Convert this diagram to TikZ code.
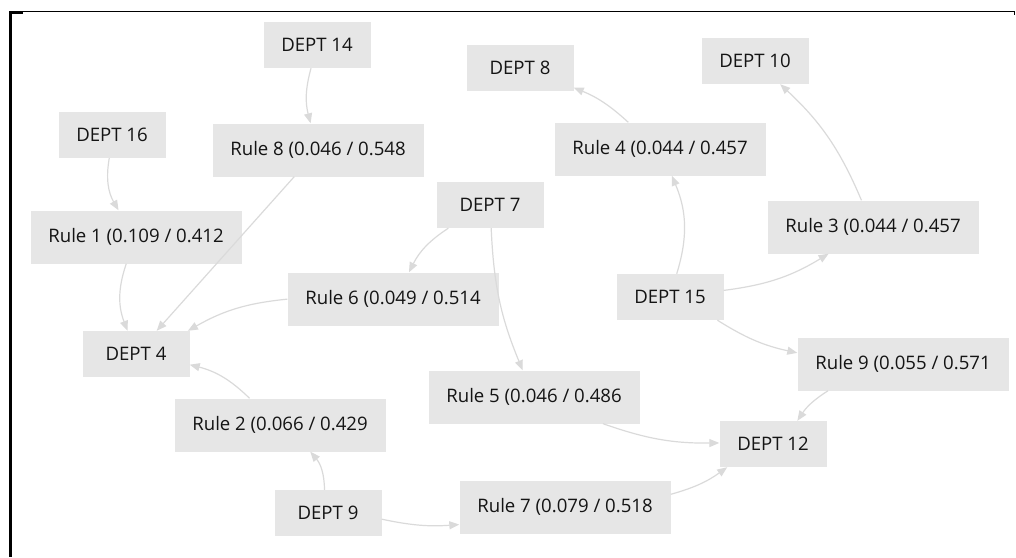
\documentclass[tikz,border=0pt]{standalone}
\usepackage{fontspec}
\setmainfont{Open Sans}
\usetikzlibrary{arrows.meta}

\definecolor{boxgray}{HTML}{E6E6E6}
\definecolor{linkgray}{HTML}{DADADA}
\definecolor{textdark}{HTML}{141414}

\begin{document}
\begin{tikzpicture}[x=1pt, y=-1pt, >={Triangle[length=10pt,width=8pt]},
 deptbox/.style = {fill=boxgray, text=textdark, minimum width=107pt, minimum height=46pt, inner sep=0pt, font=\fontsize{18.6}{22}\selectfont},
 rulebox/.style = {deptbox, minimum width=211pt, minimum height=53pt},
 link/.style = {color=linkgray, line width=1.2pt, ->},
                        ]
    \useasboundingbox (0,0) rectangle (1016,557);

%% frame
    \draw[line width=1pt] (9,11.5) -- (1015,11.5);
    \draw[line width=2pt] (9,12.5) -- (23,12.5);
    \draw[line width=1pt] (1014.5,11) -- (1014.5,15);
    \draw[line width=3pt] (10.5,11) -- (10.5,557);

%% nodes
    \node [deptbox] at (317,45)   (d14)  {DEPT 14};
    \node [deptbox] at (112,135)  (d16)  {DEPT 16};
    \node [rulebox] at (318,150)  (r8)   {Rule 8 (0.046 / 0.548};
    \node [rulebox] at (136,237)  (r1)   {Rule 1 (0.109 / 0.412};
    \node [deptbox] at (520,68)   (d8)   {DEPT 8};
    \node [deptbox] at (755,61)   (d10)  {DEPT 10};
    \node [rulebox] at (660,149)  (r4)   {Rule 4 (0.044 / 0.457};
    \node [deptbox] at (490,205)  (d7)   {DEPT 7};
    \node [rulebox] at (873,227)  (r3)   {Rule 3 (0.044 / 0.457};
    \node [rulebox] at (393,299)  (r6)   {Rule 6 (0.049 / 0.514};
    \node [deptbox] at (670,297)  (d15)  {DEPT 15};
    \node [deptbox] at (136,354)  (d4)   {DEPT 4};
    \node [rulebox] at (903,364)  (r9)   {Rule 9 (0.055 / 0.571};
    \node [rulebox] at (534,397)  (r5)   {Rule 5 (0.046 / 0.486};
    \node [rulebox] at (280,425)  (r2)   {Rule 2 (0.066 / 0.429};
    \node [deptbox] at (773,444)  (d12)  {DEPT 12};
    \node [rulebox] at (565,507)  (r7)   {Rule 7 (0.079 / 0.518};
    \node [deptbox] at (328,513)  (d9)   {DEPT 9};

%% paths
    \path[link] (d14) edge[bend right=15] (r8)
                (d16) edge[bend right=20] (r1)
                (r1)  edge[bend right=20] (d4)
                (r8)  edge                (d4)
                (d7)  edge[bend right=15] (r6)
                (d7)  edge[bend right=10] (r5)
                (r6)  edge[bend right=12] (d4)
                (r2)  edge[bend right=15] (d4)
                (d9)  edge[bend right=20] (r2)
                (d9)  edge[bend right=8]  (r7)
                (r7)  edge[bend right=10] (d12)
                (r5)  edge[bend right=10] (d12)
                (r9)  edge[bend right=12] (d12)
                (d15) edge[bend right=10] (r9)
                (d15) edge[bend right=12] (r3)
                (d15) edge[bend right=20] (r4)
                (r4)  edge[bend right=10] (d8)
                (r3)  edge[bend right=12] (d10)
                ;
\end{tikzpicture}
\end{document}
